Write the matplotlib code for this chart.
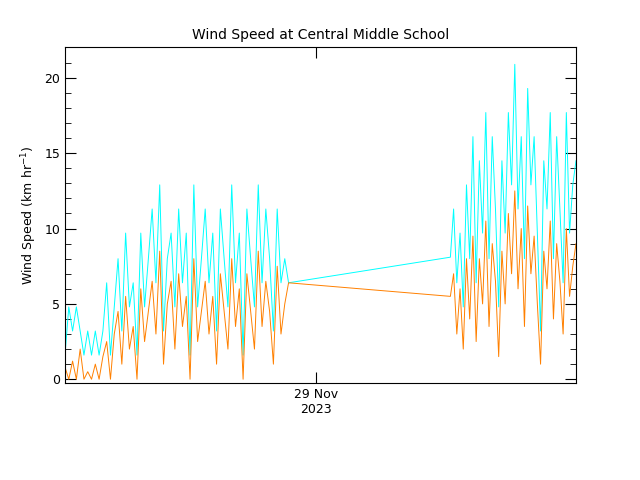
import numpy as np
import matplotlib.pyplot as plt

# hours relative to 29 Nov 2023 00:00
seg1_start, seg1_end = -23.6, -2.6
seg2_start, seg2_end = 12.6, 24.4

gust1 = [1.6, 4.8, 3.2, 4.8, 3.2, 1.6, 3.2, 1.6, 3.2, 1.6, 3.2, 6.4, 1.6, 4.8, 8.0, 3.2, 9.7, 4.8, 6.4, 1.6,
         9.7, 4.8, 8.0, 11.3, 6.4, 12.9, 3.2, 8.0, 9.7, 4.8, 11.3, 6.4, 9.7, 1.6, 12.9, 4.8, 8.0, 11.3, 6.4, 9.7,
         3.2, 11.3, 8.0, 4.8, 12.9, 6.4, 9.7, 1.6, 11.3, 8.0, 4.8, 12.9, 6.4, 11.3, 8.0, 3.2, 11.3, 6.4, 8.0, 6.4]
speed1 = [0.8, 0, 1.2, 0, 2.0, 0, 0.5, 0, 1.0, 0, 1.5, 2.5, 0, 3.0, 4.5, 1.0, 5.5, 2.0, 3.5, 0,
          6.0, 2.5, 4.5, 6.5, 3.0, 8.5, 1.0, 5.0, 6.5, 2.0, 7.0, 3.5, 5.5, 0, 8.0, 2.5, 4.5, 6.5, 3.0, 5.5,
          1.0, 7.0, 4.5, 2.0, 8.0, 3.5, 6.0, 0, 7.0, 4.5, 2.0, 8.5, 3.5, 6.5, 4.5, 1.0, 7.5, 3.0, 5.0, 6.4]
gust2 = [8.1, 11.3, 6.4, 9.7, 4.8, 12.9, 8.0, 16.1, 6.4, 14.5, 9.7, 17.7, 8.0, 16.1, 11.3, 4.8, 14.5, 9.7, 17.7, 12.9,
         20.9, 11.3, 16.1, 8.0, 19.3, 12.9, 16.1, 9.7, 3.2, 14.5, 11.3, 17.7, 8.0, 16.1, 11.3, 6.4, 17.7, 9.7, 12.9, 14.5]
speed2 = [5.5, 7.0, 3.0, 6.0, 2.0, 8.0, 4.0, 9.5, 2.5, 8.0, 5.0, 10.5, 3.5, 9.0, 6.5, 1.5, 8.5, 5.0, 11.0, 7.0,
          12.5, 6.0, 10.0, 3.5, 11.5, 7.0, 9.5, 5.0, 1.0, 8.5, 6.0, 10.5, 4.0, 9.0, 6.5, 3.0, 10.0, 5.5, 7.5, 9.0]

t = np.concatenate([np.linspace(seg1_start, seg1_end, len(gust1)),
                    np.linspace(seg2_start, seg2_end, len(gust2))])
gust = gust1 + gust2
speed = speed1 + speed2

fig = plt.figure(figsize=(6.4, 4.8), dpi=100)
ax = fig.add_axes([65/640, 1-383/480, 511/640, 336/480])
ax.plot(t, gust, color=(0, 1, 1), lw=0.7)
ax.plot(t, speed, color=(1, 0.5, 0), lw=0.7)

ax.set_xlim(-23.6, 24.4)
ax.set_ylim(-0.25, 22.05)
ax.set_yticks([0, 5, 10, 15, 20])
ax.set_yticks(np.arange(0, 22, 1), minor=True)
ax.set_xticks([0])
ax.set_xticklabels(["29 Nov\n2023"])
ax.tick_params(direction="in", top=True, right=True, which="both", labelsize=9)
ax.tick_params(axis="x", length=8)
ax.tick_params(axis="y", which="major", length=8)
ax.tick_params(axis="y", which="minor", length=4)
ax.set_ylabel("Wind Speed (km hr$^{-1}$)", fontsize=9)
ax.set_title("Wind Speed at Central Middle School", fontsize=10)

fig.savefig("out.png")
